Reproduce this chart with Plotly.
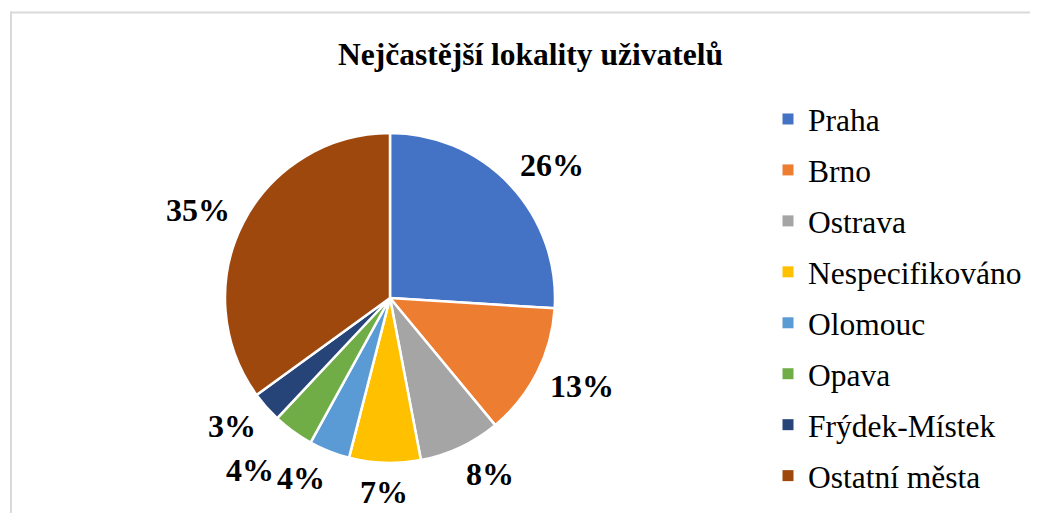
import math
import plotly.graph_objects as go

categories = ["Praha", "Brno", "Ostrava", "Nespecifikováno", "Olomouc", "Opava",
              "Frýdek-Místek", "Ostatní města"]
values = [26, 13, 8, 7, 4, 4, 3, 35]
colors = ["#4472C4", "#ED7D31", "#A5A5A5", "#FFC000", "#5B9BD5", "#70AD47",
          "#264478", "#9E480E"]
title_text = "Nejčastější lokality uživatelů"

OFF = 8  # page body margin in the browser
W, H = 1038 - OFF, 513 - OFF
FONT = "Liberation Serif, Times New Roman, serif"
LABEL_SIZE = 32


def px(x):
    return (x - OFF) / W


def py(y):
    return 1 - (y - OFF) / H


# pie geometry (screen pixels)
CX, CY, R = 390, 298, 165

fig = go.Figure()
fig.add_trace(go.Pie(
    labels=categories, values=values, sort=False, direction="clockwise",
    rotation=0, marker=dict(colors=colors, line=dict(color="white", width=2.5)),
    textinfo="none", showlegend=False, hoverinfo="label+percent",
    domain=dict(x=[px(CX - R), px(CX + R)], y=[py(CY + R), py(CY - R)]),
))

# legend entries (one per category, same colours as slices)
for cat, col in zip(categories, colors):
    fig.add_trace(go.Scatter(
        x=[None], y=[None], mode="markers", name=cat, legendgroup=cat,
        marker=dict(symbol="square", size=11, color=col),
        showlegend=True, hoverinfo="skip",
    ))

# data labels placed outside the slice ends (derived from the values)
total = sum(values)
labels = []
cum = 0.0
for v in values:
    mid = (cum + v / 2) / total * 2 * math.pi
    cum += v
    txt = f"{round(v / total * 100)}%"
    hw = (len(txt) - 1) * 0.25 * LABEL_SIZE + 0.5 * LABEL_SIZE * 0.95
    hh = 14
    s, c = math.sin(mid), -math.cos(mid)
    ax = CX + s * (R + 15)
    ay = CY + c * (R + 15)
    x = ax + math.copysign(hw, s) * (abs(s) > 0.05)
    y = ay + hh * c
    labels.append([txt, x, y, hw, hh, s, c])

# simple collision avoidance: push overlapping labels outward
for i in [4, 5, 6]:
    prev = labels[i - 1]
    lab = labels[i]
    for _ in range(300):
        ox = abs(lab[1] - prev[1]) < lab[3] + prev[3] + 4
        oy = abs(lab[2] - prev[2]) < lab[4] + prev[4] + 2
        if not (ox and oy):
            break
        lab[1] += lab[5]
        lab[2] += lab[6]

annotations = []
for txt, x, y, *_ in labels:
    annotations.append(dict(
        text=txt, x=px(x), y=py(y), xref="paper", yref="paper",
        xanchor="center", yanchor="middle", showarrow=False,
        font=dict(family=FONT, size=LABEL_SIZE, color="black", weight="bold"),
    ))

frame = dict(color="#D9D9D9", width=2)
fig.update_layout(
    width=W, height=H,
    margin=dict(l=0, r=0, t=0, b=0, autoexpand=False),
    paper_bgcolor="white", plot_bgcolor="white",
    title=dict(text=title_text, x=px(530.5), xanchor="center", y=py(53.5),
               yanchor="middle", automargin=False,
               font=dict(family=FONT, size=31.5, color="black", weight="bold")),
    xaxis=dict(visible=False), yaxis=dict(visible=False),
    legend=dict(x=px(768), xanchor="left", y=py(92), yanchor="top",
                font=dict(family=FONT, size=31.5, color="black"),
                tracegroupgap=7, bgcolor="rgba(0,0,0,0)"),
    annotations=annotations,
    shapes=[
        dict(type="line", xref="paper", yref="paper",
             x0=px(10), x1=1.0, y0=py(12.5), y1=py(12.5), line=frame,
             layer="below"),
        dict(type="line", xref="paper", yref="paper",
             x0=px(11), x1=px(11), y0=py(11.5), y1=0.0, line=frame,
             layer="below"),
    ],
)

fig.write_html("out.html")
